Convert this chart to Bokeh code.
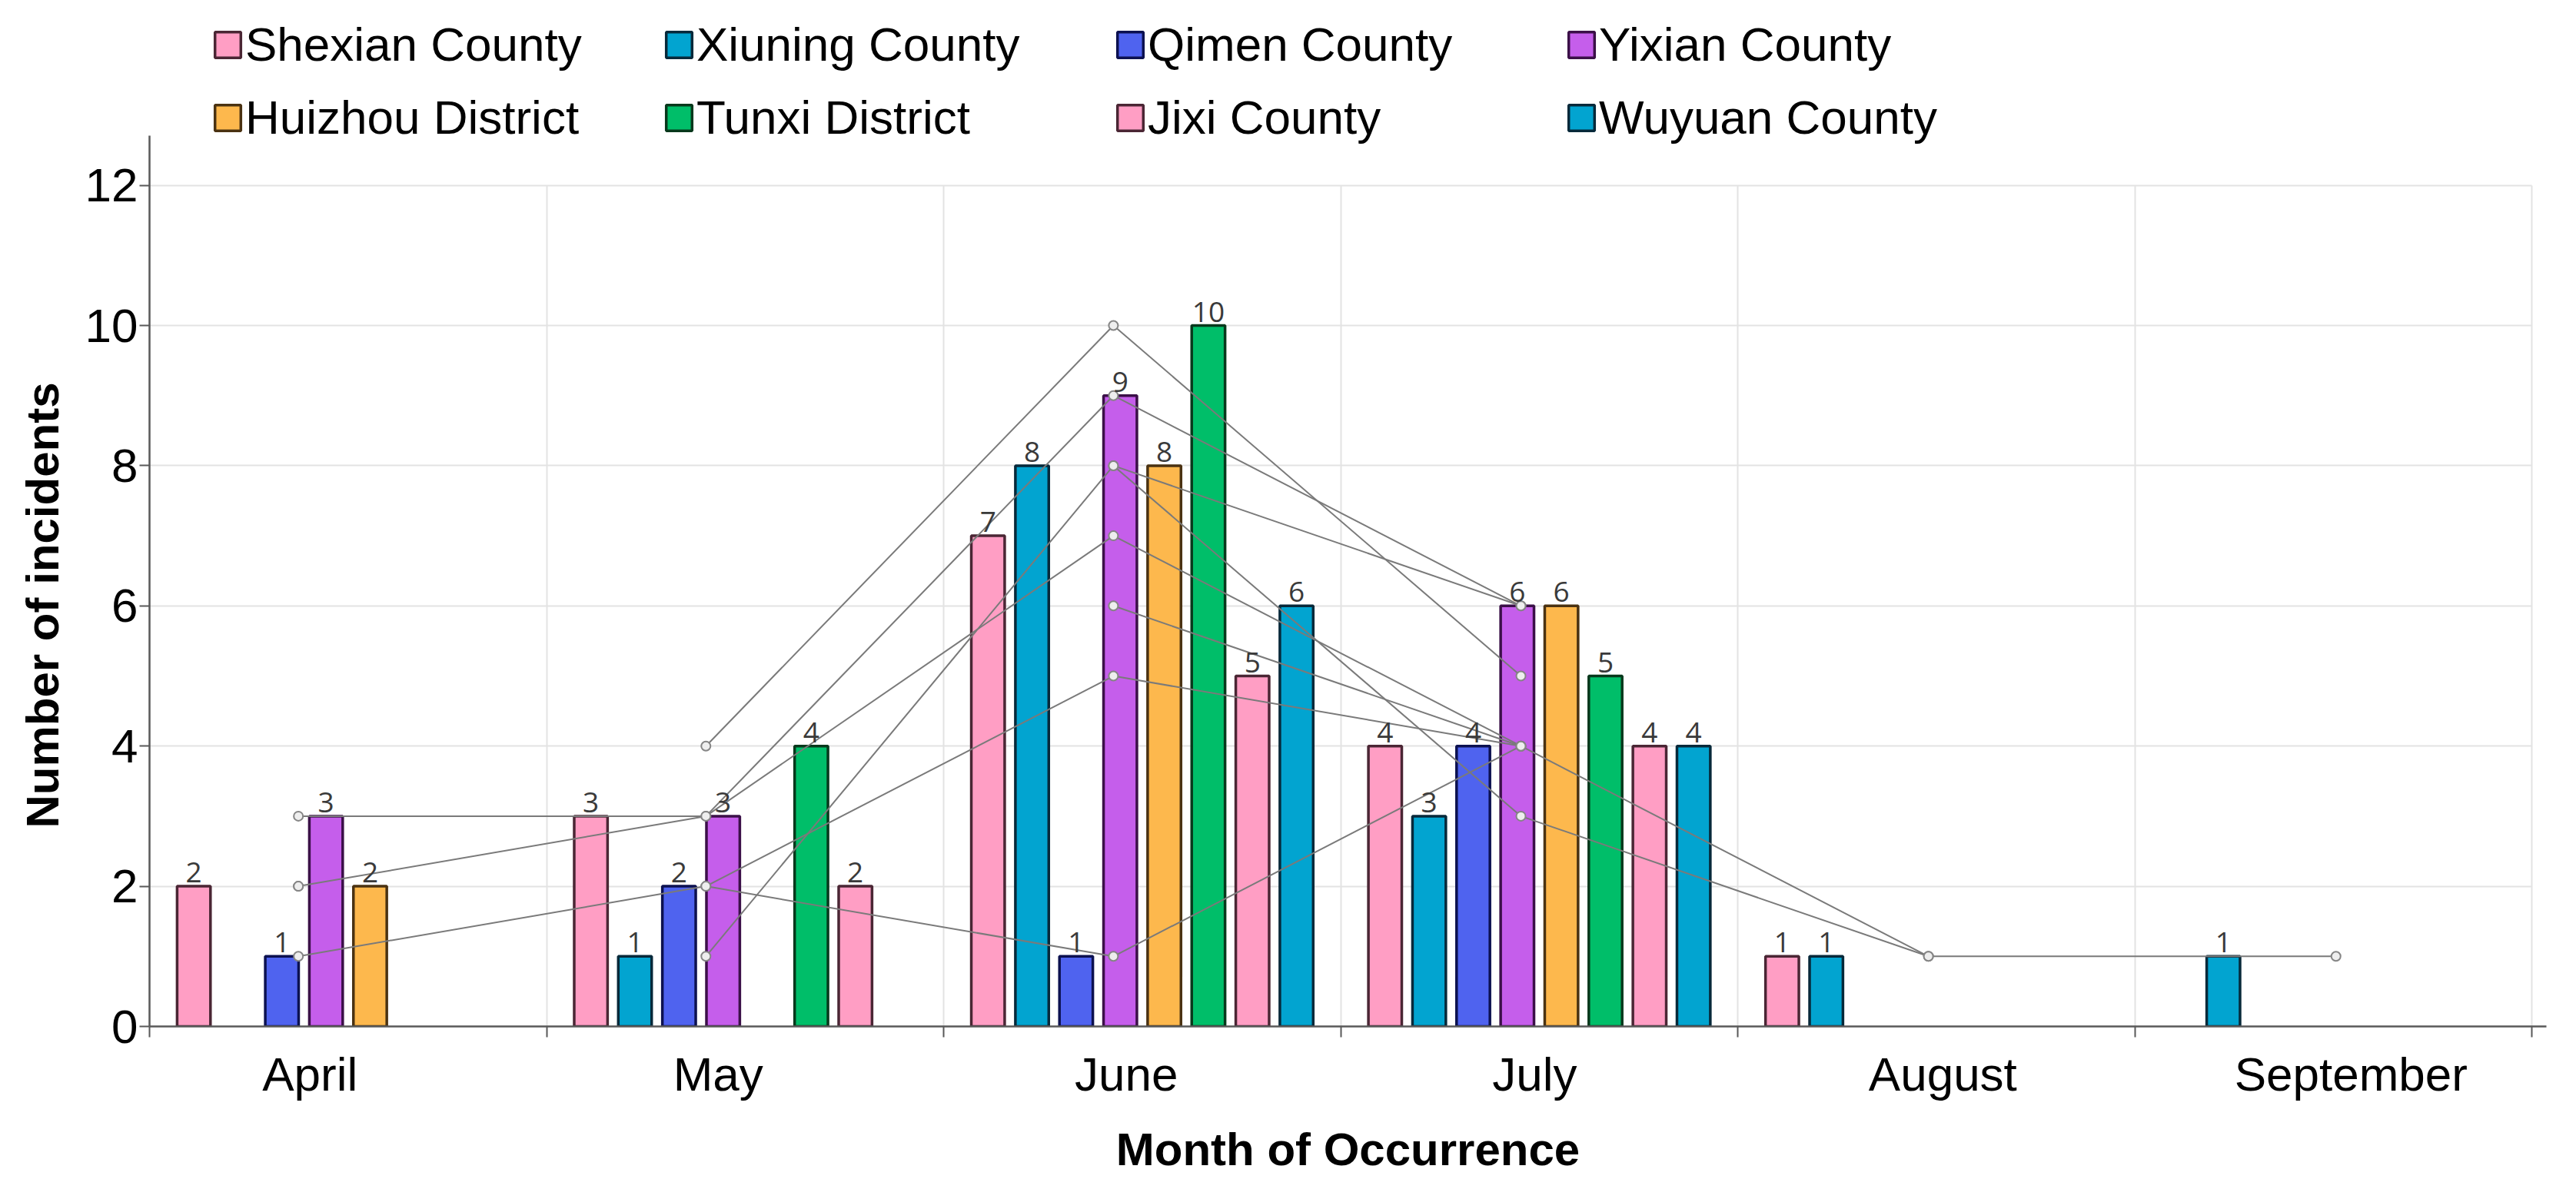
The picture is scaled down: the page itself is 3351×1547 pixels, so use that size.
import math
from bokeh.plotting import figure
from bokeh.models import (ColumnDataSource, Range1d, LinearAxis, FixedTicker,
                          Legend, LegendItem, Title)
from bokeh.core.properties import value
from bokeh.embed import file_html
from bokeh.resources import INLINE

# ---------------- data ----------------
months = ["April", "May", "June", "July", "August", "September"]

series_names = ["Shexian County", "Xiuning County", "Qimen County", "Yixian County",
                "Huizhou District", "Tunxi District", "Jixi County", "Wuyuan County"]

shexian = [2, 3, 7, 4, 1, 0]
xiuning = [0, 1, 8, 3, 1, 1]
qimen = [1, 2, 1, 4, 0, 0]
yixian = [3, 3, 9, 6, 0, 0]
huizhou = [2, 0, 8, 6, 0, 0]
tunxi = [0, 4, 10, 5, 0, 0]
jixi = [0, 2, 5, 4, 0, 0]
wuyuan = [0, 0, 6, 4, 0, 0]
series_values = [shexian, xiuning, qimen, yixian, huizhou, tunxi, jixi, wuyuan]

y_ticks = [0, 2, 4, 6, 8, 10, 12]

# ---------------- style ----------------
fill_colors = ["#ff9ec4", "#02a4d0", "#4f63ef", "#c55eeb",
               "#fdb84d", "#00be69", "#ff9ec4", "#02a4d0"]
edge_colors = ["#4a2634", "#07293a", "#0c1150", "#3b1048",
               "#4a3212", "#08381c", "#4a2634", "#07293a"]
AXIS_COL = "#595959"
GRID_COL = "#e3e3e3"
LINE_COL = "#7a7a7a"
FONT = "Liberation Sans"

n = len(months)
k_count = len(series_names)
SLOT = 0.111     # dodge step within a month (fraction of a month)
BAR_W = 0.084    # bar width (fraction of a month)
Y_TOP = 14.54    # room above the plot for the legend
Y_AXIS_END = 12.71

p = figure(width=3335, height=1531, output_backend="svg", toolbar_location=None,
           x_range=Range1d(0, 6.036), y_range=Range1d(0, Y_TOP),
           min_border_left=190, min_border_right=23,
           min_border_top=9, min_border_bottom=194)
p.extra_x_ranges = {"lines": Range1d(-0.3653, 5.5164),
                    "labels": Range1d(-0.3931, 5.4786)}
p.outline_line_color = None
p.background_fill_color = "white"
p.border_fill_color = "white"

# grids
p.xgrid.ticker = FixedTicker(ticks=list(range(1, n + 1)))
p.ygrid.ticker = FixedTicker(ticks=y_ticks)
for g in (p.xgrid, p.ygrid):
    g.grid_line_color = GRID_COL
    g.grid_line_width = 2
p.xgrid.cross_bounds = (0, max(y_ticks))
p.ygrid.cross_bounds = (0, n)

# primary x axis: line + boundary ticks only
xa = p.xaxis[0]
xa.ticker = FixedTicker(ticks=[], minor_ticks=list(range(0, n + 1)))
xa.axis_line_color = AXIS_COL
xa.axis_line_width = 2.5
xa.major_tick_out = 0
xa.major_tick_in = 0
xa.minor_tick_out = 14
xa.minor_tick_in = 0
xa.minor_tick_line_color = AXIS_COL
xa.minor_tick_line_width = 2
xa.major_label_standoff = 0

# month label axis
lab_axis = LinearAxis(x_range_name="labels",
                      ticker=FixedTicker(ticks=list(range(n))),
                      major_label_overrides={i: m for i, m in enumerate(months)})
lab_axis.axis_line_color = None
lab_axis.major_tick_line_color = None
lab_axis.minor_tick_line_color = None
lab_axis.major_tick_out = 0
lab_axis.major_tick_in = 0
lab_axis.major_label_standoff = 13
lab_axis.major_label_text_font = FONT
lab_axis.major_label_text_font_size = "62px"
lab_axis.major_label_text_color = "black"
lab_axis.axis_label = "Month of Occurrence"
lab_axis.axis_label_text_font = FONT
lab_axis.axis_label_text_font_size = "60px"
lab_axis.axis_label_text_font_style = "bold"
lab_axis.axis_label_text_color = "black"
lab_axis.axis_label_standoff = 27
p.add_layout(lab_axis, "below")

# y axis
ya = p.yaxis[0]
ya.ticker = FixedTicker(ticks=y_ticks)
ya.bounds = (0, Y_AXIS_END)
ya.axis_line_color = AXIS_COL
ya.axis_line_width = 2.5
ya.major_tick_out = 13
ya.major_tick_in = 0
ya.major_tick_line_color = AXIS_COL
ya.major_tick_line_width = 2
ya.minor_tick_line_color = None
ya.major_label_standoff = 2
ya.major_label_text_font = FONT
ya.major_label_text_font_size = "62px"
ya.major_label_text_color = "black"

ytitle = Title(text="Number of incidents", align="left", offset=258,
               vertical_align="bottom", standoff=38,
               text_font=FONT, text_font_size="60px", text_font_style="bold",
               text_color="black")
p.add_layout(ytitle, "left")

# bars
legend_items = []
label_x, label_y, label_t = [], [], []
for k, (name, vals) in enumerate(zip(series_names, series_values)):
    xs, tops = [], []
    for i, v in enumerate(vals):
        if v > 0:
            xs.append(i + 0.5 + (k - (k_count - 1) / 2) * SLOT)
            tops.append(v)
    src = ColumnDataSource(dict(x=xs, top=tops))
    r = p.vbar(x="x", top="top", bottom=0, width=BAR_W, source=src,
               fill_color=fill_colors[k], line_color=edge_colors[k], line_width=3.5)
    legend_items.append(LegendItem(label=name, renderers=[r]))
    label_x += xs
    label_y += tops
    label_t += [str(v) for v in tops]

# trend lines (gaps where a county has no incident)
for k, vals in enumerate(series_values):
    ys = [v if v > 0 else math.nan for v in vals]
    src = ColumnDataSource(dict(x=list(range(n)), y=ys))
    p.line(x="x", y="y", source=src, x_range_name="lines",
           line_color=LINE_COL, line_width=2)
    p.scatter(x="x", y="y", source=src, x_range_name="lines", marker="circle",
              size=12, fill_color="#eeeeee", line_color="#858585", line_width=2)

# value labels
p.text(x="x", y="y", text="t", source=ColumnDataSource(dict(x=label_x, y=label_y, t=label_t)),
       text_font=value("Open Sans"), text_font_size="37px", text_color="#3a3a3a",
       text_align="center", text_baseline="alphabetic", y_offset=-18)

legend = Legend(items=legend_items, location=(81, 1147), orientation="horizontal", ncols=4,
                glyph_width=42, glyph_height=42, label_standoff=2, label_width=519,
                spacing=24, padding=0, margin=0,
                border_line_color=None, background_fill_alpha=0,
                label_text_font=FONT, label_text_font_size="62px",
                label_text_color="black")
p.add_layout(legend, "center")

open("out.html", "w").write(file_html(p, INLINE))
